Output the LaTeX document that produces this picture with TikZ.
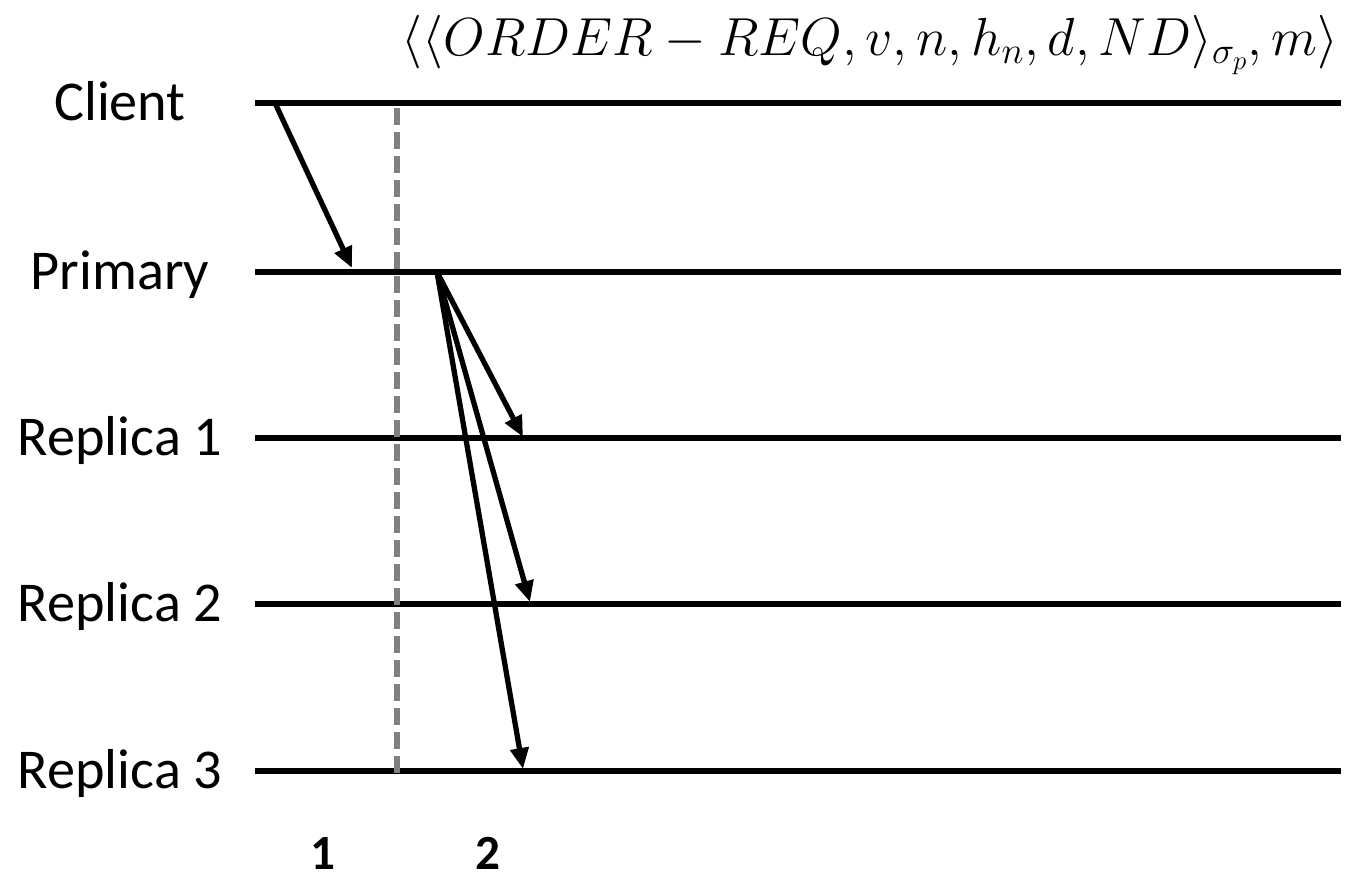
\RequirePackage{fix-cm}
\documentclass[tikz,border=0pt]{standalone}
\usepackage{amsmath}
\usepackage{fontspec}
\setmainfont{Carlito}
\usetikzlibrary{arrows.meta,calc}
\definecolor{DashGray}{HTML}{808080}

\begin{document}
\begin{tikzpicture}[x=0.02cm,y=-0.02cm,>={Triangle[length=4.2mm,width=3.6mm]}]
        \useasboundingbox (0,0) rectangle (1356,879);
        % time lines of the five parties
        \foreach \name/\lab/\y in {cl/Client/103,pr/Primary/272,rA/Replica 1/438,rB/Replica 2/604,rC/Replica 3/771} {
          \node[font=\fontsize{32}{38}\selectfont,anchor=base,inner sep=0pt] (\name) at (120,\y+17) {\lab};
          \coordinate (\name s) at (255,\y);
          \coordinate (\name e) at (1341,\y);
          \draw[line width=3.3pt] (\name s) -- (\name e);
        }
        % phase separator
        \coordinate (sepTop) at (397,108);
        \coordinate (sepBot) at (397,776);
        \draw[DashGray,line width=3pt,dash pattern=on 0.34cm off 0.14cm] (sepTop) -- (sepBot);
        % request from client
        \coordinate (reqS) at (275,103);
        \coordinate (reqE) at (352,268);
        \draw[->,line width=3pt] (reqS) -- (reqE);
        % order request to the replicas
        \coordinate (ordS) at (437,272);
        \coordinate (ordA) at (523,437);
        \coordinate (ordB) at (530,602);
        \coordinate (ordC) at (523,769);
        \foreach \t in {ordA,ordB,ordC}
          \draw[->,line width=3pt] (ordS) -- (\t);
        \node[font=\fontsize{30.5}{36}\selectfont,inner sep=0pt] (msg) at (870,45)
          {$\langle\langle ORDER-REQ,v,n,h_n,d,ND\rangle_{\sigma_p},m\rangle$};
        \node[font=\fontsize{28}{32}\selectfont\bfseries,anchor=base,inner sep=0pt] (ph1) at (323,869) {1};
        \node[font=\fontsize{28}{32}\selectfont\bfseries,anchor=base,inner sep=0pt] (ph2) at (488,869) {2};
      \end{tikzpicture}
\end{document}
